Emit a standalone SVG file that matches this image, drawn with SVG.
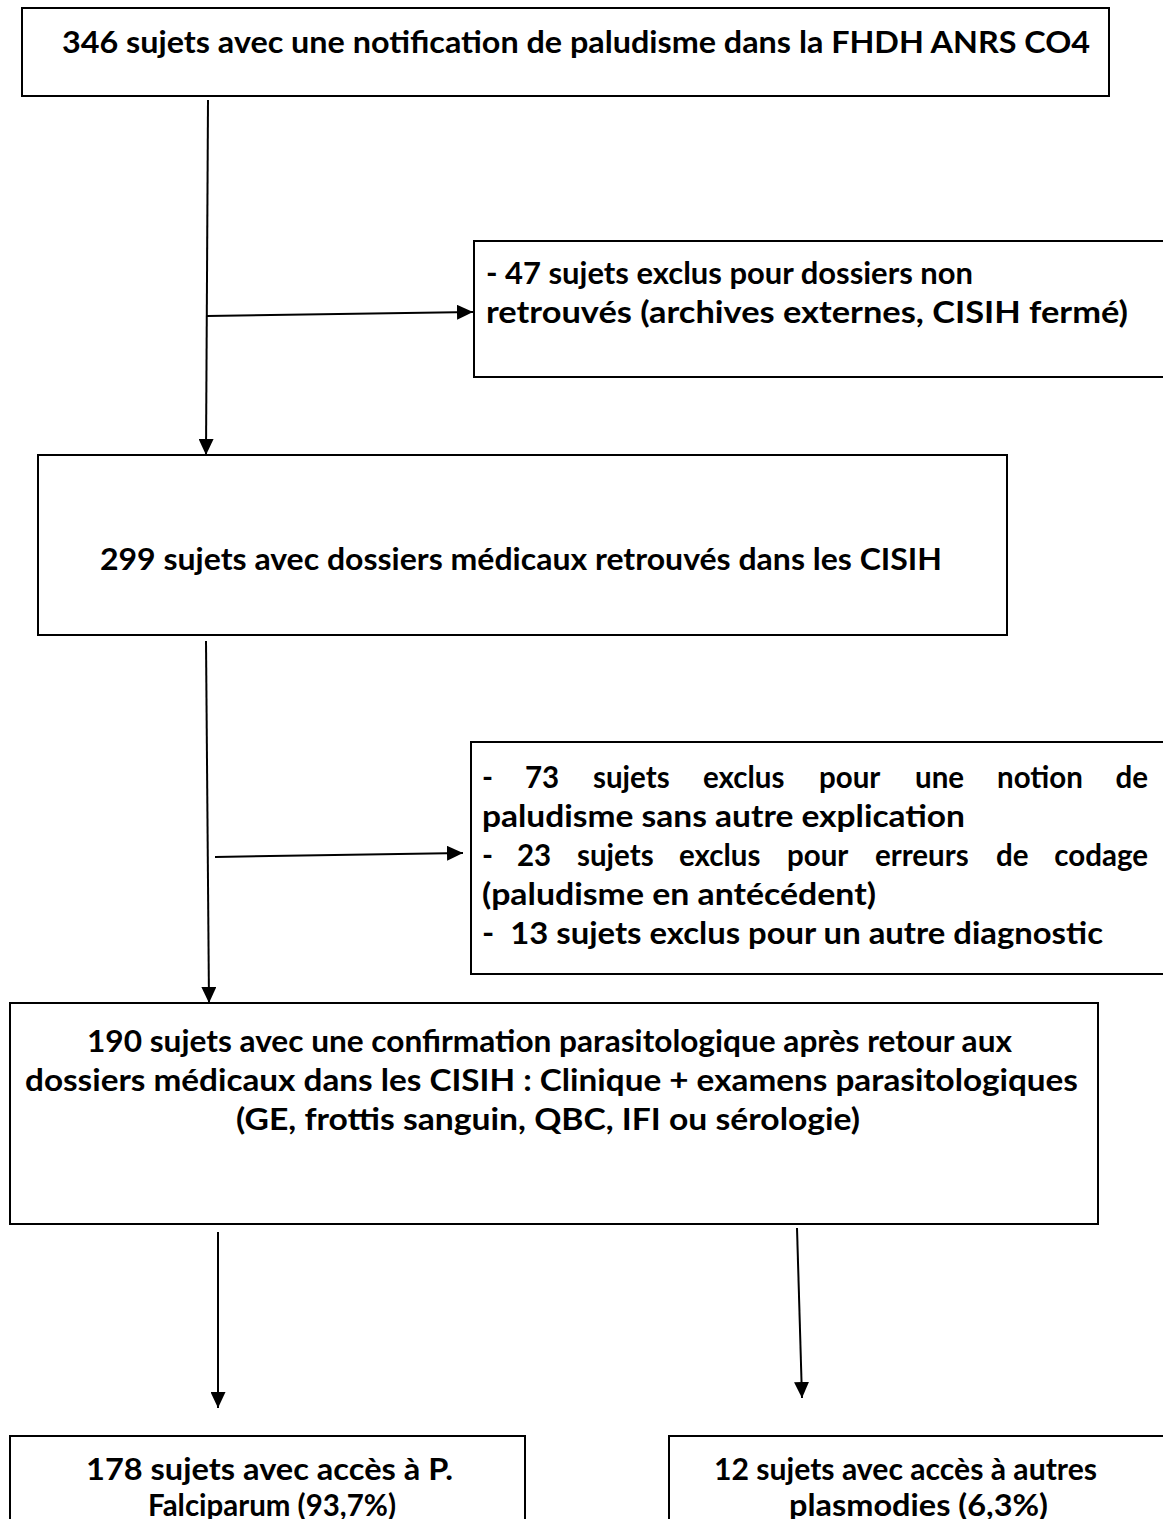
<svg xmlns="http://www.w3.org/2000/svg" width="1163" height="1519" viewBox="0 0 1163 1519">
<style>
.box{fill:#fff;stroke:#000;stroke-width:2}
.t{font-family:Lato,"Open Sans","Liberation Sans",sans-serif;font-weight:bold;font-size:29.5px;fill:#000}
.c{fill:none;stroke:#000;stroke-width:2}
</style>
<defs>
<marker id="ah" viewBox="0 0 16 15" refX="16" refY="7.5" markerWidth="16" markerHeight="15" markerUnits="userSpaceOnUse" orient="auto">
<path d="M0,0 L16,7.5 L0,15 z" fill="#000"/>
</marker>
</defs>
<rect width="1163" height="1519" fill="#fff"/>
<g id="connectors">
<path class="c" d="M208,100 L206,455" marker-end="url(#ah)"/>
<path class="c" d="M207,316 L473,312" marker-end="url(#ah)"/>
<path class="c" d="M206,641 L209,1003" marker-end="url(#ah)"/>
<path class="c" d="M215,857 L463,853" marker-end="url(#ah)"/>
<path class="c" d="M218,1232 L218,1408" marker-end="url(#ah)"/>
<path class="c" d="M797,1228 L802,1398" marker-end="url(#ah)"/>
</g>
<g id="n1">
<rect class="box" x="22" y="8" width="1087" height="88"/>
<text class="t" x="62" y="53" textLength="1028" lengthAdjust="spacingAndGlyphs">346 sujets avec une notification de paludisme dans la FHDH ANRS CO4</text>
</g>
<g id="n2">
<rect class="box" x="474" y="241" width="720" height="136"/>
<text class="t" x="486" y="284" textLength="487" lengthAdjust="spacingAndGlyphs">- 47 sujets exclus pour dossiers non</text>
<text class="t" x="486" y="323" textLength="642" lengthAdjust="spacingAndGlyphs">retrouvés (archives externes, CISIH fermé)</text>
</g>
<g id="n3">
<rect class="box" x="38" y="455" width="969" height="180"/>
<text class="t" x="100" y="570" textLength="842" lengthAdjust="spacingAndGlyphs">299 sujets avec dossiers médicaux retrouvés dans les CISIH</text>
</g>
<g id="n4">
<rect class="box" x="471" y="742" width="720" height="232"/>
<text class="t" y="788"><tspan x="482">-</tspan><tspan x="525">73</tspan><tspan x="593">sujets</tspan><tspan x="703">exclus</tspan><tspan x="819">pour</tspan><tspan x="915">une</tspan><tspan x="997">notion</tspan><tspan x="1148" text-anchor="end">de</tspan></text>
<text class="t" x="482" y="827" textLength="483" lengthAdjust="spacingAndGlyphs">paludisme sans autre explication</text>
<text class="t" y="866"><tspan x="482">-</tspan><tspan x="517">23</tspan><tspan x="577">sujets</tspan><tspan x="679">exclus</tspan><tspan x="787">pour</tspan><tspan x="875">erreurs</tspan><tspan x="996">de</tspan><tspan x="1148" text-anchor="end">codage</tspan></text>
<text class="t" x="482" y="905" textLength="394" lengthAdjust="spacingAndGlyphs">(paludisme en antécédent)</text>
<text class="t" x="482" y="944" textLength="621" lengthAdjust="spacingAndGlyphs" xml:space="preserve">-  13 sujets exclus pour un autre diagnostic</text>
</g>
<g id="n5">
<rect class="box" x="10" y="1003" width="1088" height="221"/>
<text class="t" x="87" y="1052" textLength="925" lengthAdjust="spacingAndGlyphs">190 sujets avec une confirmation parasitologique après retour aux</text>
<text class="t" x="25" y="1091" textLength="1053" lengthAdjust="spacingAndGlyphs">dossiers médicaux dans les CISIH : Clinique + examens parasitologiques</text>
<text class="t" x="236" y="1130" textLength="624" lengthAdjust="spacingAndGlyphs">(GE, frottis sanguin, QBC, IFI ou sérologie)</text>
</g>
<g id="n6">
<rect class="box" x="10" y="1436" width="515" height="100"/>
<text class="t" x="86" y="1480" textLength="367" lengthAdjust="spacingAndGlyphs">178 sujets avec accès à P.</text>
<text class="t" x="148" y="1516" textLength="248" lengthAdjust="spacingAndGlyphs">Falciparum (93,7%)</text>
</g>
<g id="n7">
<rect class="box" x="669" y="1436" width="520" height="100"/>
<text class="t" x="714" y="1480" textLength="383" lengthAdjust="spacingAndGlyphs">12 sujets avec accès à autres</text>
<text class="t" x="789" y="1516" textLength="259" lengthAdjust="spacingAndGlyphs">plasmodies (6,3%)</text>
</g>
</svg>
